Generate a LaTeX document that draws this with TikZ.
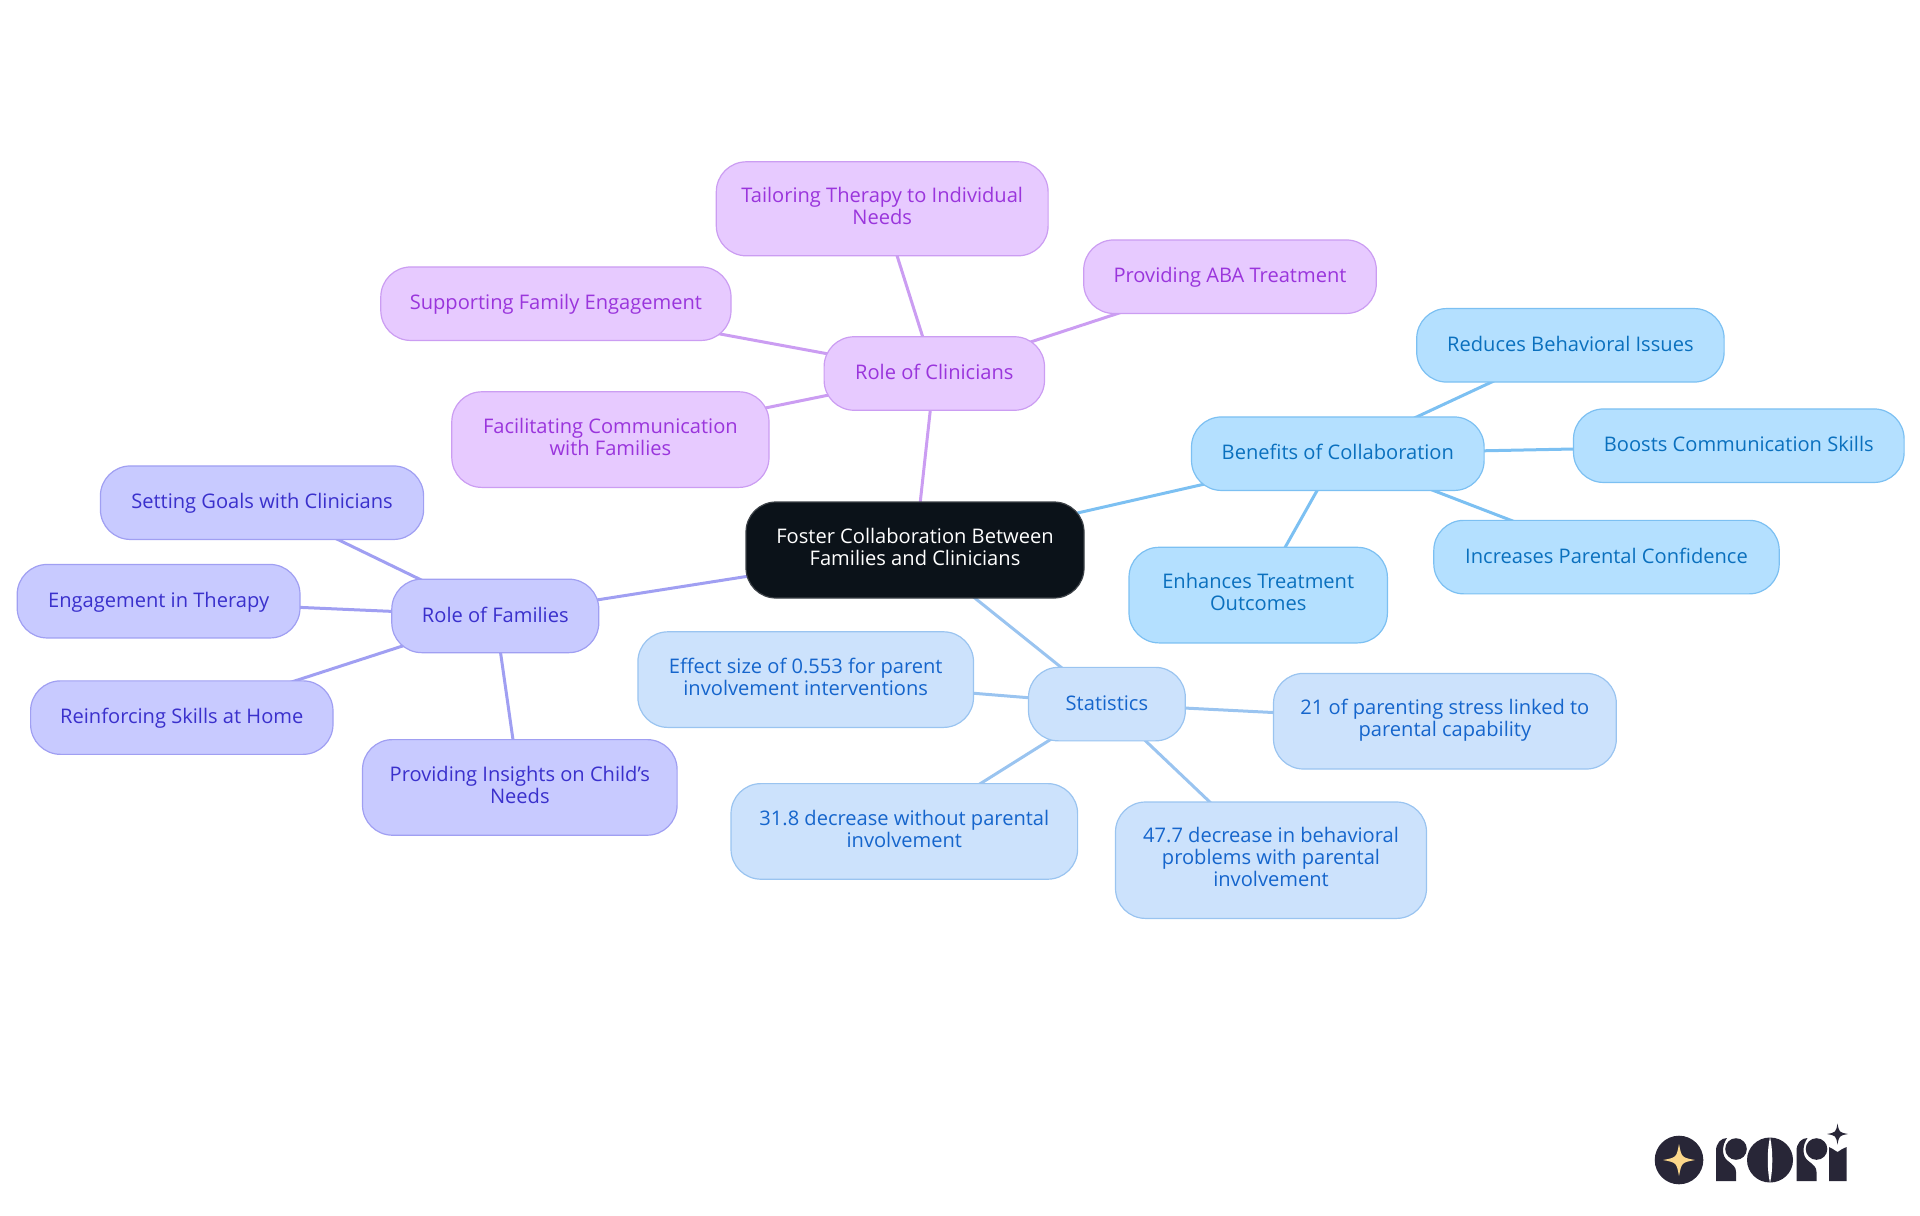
\documentclass[tikz,border=0pt]{standalone}
\usepackage{fontspec}
\setmainfont{Open Sans}
\usetikzlibrary{backgrounds}

\definecolor{rootfill}{HTML}{0B1219}
\definecolor{purplefill}{HTML}{E7CAFF}
\definecolor{purpleline}{HTML}{CB9DF2}
\definecolor{purpletext}{HTML}{9A35DC}
\definecolor{indigofill}{HTML}{C8CAFF}
\definecolor{indigoline}{HTML}{A09FF2}
\definecolor{indigotext}{HTML}{3A30CC}
\definecolor{skyfill}{HTML}{B4E0FF}
\definecolor{skyline}{HTML}{7CC0F2}
\definecolor{skytext}{HTML}{0A70BE}
\definecolor{bluefill}{HTML}{CCE2FC}
\definecolor{blueline}{HTML}{9AC4F0}
\definecolor{bluetext}{HTML}{1565CC}
\definecolor{logodark}{HTML}{282637}
\definecolor{logostar}{HTML}{FBD78A}

\tikzset{
  box/.style={rectangle, rounded corners=15pt, line width=0.6pt, align=center,
    inner sep=0pt, minimum height=36.75pt,
    font=\fontsize{10.05}{11}\selectfont,
    execute at begin node={\rule{0pt}{9.2pt}},
    execute at end node={\rule[-3pt]{0pt}{3pt}}},
  rootbox/.style={box, fill=rootfill, draw=rootfill!80!white, text=white, minimum height=48pt},
  purplebox/.style={box, fill=purplefill, draw=purpleline, text=purpletext},
  indigobox/.style={box, fill=indigofill, draw=indigoline, text=indigotext},
  skybox/.style={box, fill=skyfill, draw=skyline, text=skytext},
  bluebox/.style={box, fill=bluefill, draw=blueline, text=bluetext},
  link/.style={line width=1.5pt},
}

% four pointed star: centre x, centre y, arm, colour
\newcommand{\sparkle}[4]{
  \fill[#4] (#1,#2-#3) .. controls (#1+0.16*#3,#2-0.16*#3) .. (#1+#3,#2)
    .. controls (#1+0.16*#3,#2+0.16*#3) .. (#1,#2+#3)
    .. controls (#1-0.16*#3,#2+0.16*#3) .. (#1-#3,#2)
    .. controls (#1-0.16*#3,#2-0.16*#3) .. cycle;
}
% letter r of the logo, left edge at x
\newcommand{\logor}[1]{
  \fill[logodark] (#1,1181) -- (#1,1151) .. controls (#1,1143) and (#1+5,1138) .. (#1+11,1138)
    .. controls (#1+6,1145) and (#1+5,1156) .. (#1+12,1161)
    .. controls (#1+17,1165) and (#1+20,1167) .. (#1+20,1172) -- (#1+20,1181) -- cycle;
  \fill[logodark] (#1+20,1149) circle (10.8);
}

\begin{document}
\begin{tikzpicture}[x=0.5pt,y=-0.5pt]
  \useasboundingbox (0,0) rectangle (1920,1215);

  \node[rootbox, minimum width=169pt] (root) at (915,550) {Foster Collaboration Between\\Families and Clinicians};

  % clinicians
  \node[purplebox, minimum width=110.2pt] (clinicians) at (934.3,373.5) {Role of Clinicians};
  \node[purplebox, minimum width=165.9pt, minimum height=47pt] (tailoring) at (882.2,208.8) {Tailoring Therapy to Individual\\Needs};
  \node[purplebox, minimum width=146.3pt] (aba) at (1230,276.7) {Providing ABA Treatment};
  \node[purplebox, minimum width=175.1pt] (supporting) at (555.9,303.7) {Supporting Family Engagement};
  \node[purplebox, minimum width=158.6pt, minimum height=47.8pt] (facilitating) at (610.4,439.6) {Facilitating Communication\\with Families};

  % benefits
  \node[skybox, minimum width=146.3pt] (benefits) at (1337.8,453.7) {Benefits of Collaboration};
  \node[skybox, minimum width=153.7pt] (reduces) at (1570.4,345.3) {Reduces Behavioral Issues};
  \node[skybox, minimum width=165.3pt] (boosts) at (1738.8,445.7) {Boosts Communication Skills};
  \node[skybox, minimum width=172.7pt] (increases) at (1606.5,557.1) {Increases Parental Confidence};
  \node[skybox, minimum width=129.2pt, minimum height=47.8pt] (enhances) at (1258.2,595.1) {Enhances Treatment\\Outcomes};

  % families
  \node[indigobox, minimum width=103.5pt] (families) at (495.3,615.9) {Role of Families};
  \node[indigobox, minimum width=161.6pt] (setting) at (262,502.7) {Setting Goals with Clinicians};
  \node[indigobox, minimum width=141.4pt] (engagement) at (158.6,601.2) {Engagement in Therapy};
  \node[indigobox, minimum width=151.2pt] (reinforcing) at (181.8,717.6) {Reinforcing Skills at Home};
  \node[indigobox, minimum width=157.3pt, minimum height=47.8pt] (insights) at (519.8,787.4) {Providing Insights on Child's\\Needs};

  % statistics
  \node[bluebox, minimum width=78.4pt] (statistics) at (1106.9,704.1) {Statistics};
  \node[bluebox, minimum width=167.8pt, minimum height=47.8pt] (effect) at (805.7,679.6) {Effect size of 0.553 for parent\\involvement interventions};
  \node[bluebox, minimum width=171.4pt, minimum height=47.8pt] (stress) at (1444.9,721.2) {21 of parenting stress linked to\\parental capability};
  \node[bluebox, minimum width=173.3pt, minimum height=47.8pt] (without) at (904.3,831.4) {31.8 decrease without parental\\involvement};
  \node[bluebox, minimum width=155.5pt, minimum height=58.2pt] (decrease) at (1271,860.2) {47.7 decrease in behavioral\\problems with parental\\involvement};

  \begin{scope}[on background layer]
    \foreach \a/\b in {root/clinicians,clinicians/tailoring,clinicians/aba,clinicians/supporting,clinicians/facilitating} {
      \draw[link, purpleline] (\a.center) -- (\b.center);
    }
    \foreach \a/\b in {root/benefits,benefits/reduces,benefits/boosts,benefits/increases,benefits/enhances} {
      \draw[link, skyline] (\a.center) -- (\b.center);
    }
    \foreach \a/\b in {root/families,families/setting,families/engagement,families/reinforcing,families/insights} {
      \draw[link, indigoline] (\a.center) -- (\b.center);
    }
    \foreach \a/\b in {root/statistics,statistics/effect,statistics/stress,statistics/without,statistics/decrease} {
      \draw[link, blueline] (\a.center) -- (\b.center);
    }
  \end{scope}

  % logo
  \fill[logodark] (1679,1160) circle (24.3);
  \sparkle{1679}{1160}{16}{logostar}
  \logor{1716}
  \fill[logodark] (1770,1160) ellipse (23 and 22.5);
  \fill[white] (1770,1137) .. controls (1773,1150) and (1773,1170) .. (1770,1183)
    .. controls (1767,1170) and (1767,1150) .. cycle;
  \logor{1796.5}
  \fill[logodark] (1829,1181) -- (1829,1147) .. controls (1832,1148) and (1834,1150) .. (1837.5,1152)
    .. controls (1841,1150) and (1843,1148) .. (1846.5,1147) -- (1846.5,1181) -- cycle;
  \sparkle{1837.5}{1134}{10.5}{logodark}
\end{tikzpicture}
\end{document}
